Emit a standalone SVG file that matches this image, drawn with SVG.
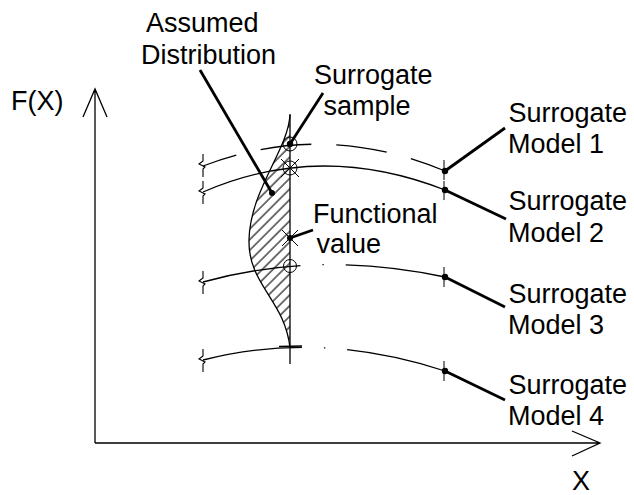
<svg xmlns="http://www.w3.org/2000/svg" width="634" height="495" viewBox="0 0 634 495">
<style>
text{font-family:"Liberation Sans",Arial,sans-serif;font-size:27px;fill:#000}
.ln{fill:none;stroke:#000;stroke-width:1.3}
.ld{fill:none;stroke:#000;stroke-width:2.8}
.th{fill:none;stroke:#000;stroke-width:1}
.zz{fill:none;stroke:#000;stroke-width:1.1}
.dot{fill:#000}
</style>
<defs>
<pattern id="hatch" patternUnits="userSpaceOnUse" width="7.5" height="7.5" patternTransform="rotate(45)">
<line x1="1" y1="0" x2="1" y2="7.5" stroke="#000" stroke-width="1.1"/>
</pattern>
<clipPath id="distclip">
<path d="M290,115 C288,150 250,190 249,240 C248,285 285,300 290,348 Z"/>
</clipPath>
</defs>
<rect width="634" height="495" fill="#fff"/>

<g id="axes">
<path class="ln" d="M95,443 L95,89 M83,117 L95,89 L107,117"/>
<path class="ln" d="M95,443 L600,443 M572,431 L600,443 L572,456"/>
<text x="11" y="110">F(X)</text>
<text x="572" y="490">X</text>
</g>

<g id="distribution">
<rect x="240" y="110" width="55" height="245" fill="url(#hatch)" clip-path="url(#distclip)"/>
<path class="ln" d="M290,115 C288,150 250,190 249,240 C248,285 285,300 290,348"/>
<line class="ln" x1="290" y1="114" x2="290" y2="364"/>
</g>

<g id="model1">
<path class="zz" d="M203,154 L203,161 L199,164 L205,167 L203,169 L203,177"/>
<path class="ln" d="M203,166 Q323,120 445,171" stroke-dasharray="35 25 51 25 51 25 45"/>
<line class="th" x1="444" y1="160" x2="444" y2="180"/>
<circle class="dot" cx="445" cy="171" r="3.2"/>
</g>

<g id="model2">
<path class="zz" d="M203,181 L203,188 L199,191 L205,194 L203,196 L203,204"/>
<path class="ln" d="M203,192 Q320,141 445,190"/>
<line class="th" x1="444" y1="181" x2="444" y2="200"/>
<circle class="dot" cx="445" cy="190" r="3.2"/>
</g>

<g id="model3">
<path class="zz" d="M203,271 L203,278 L199,281 L205,284 L203,286 L203,294"/>
<path class="ln" d="M203,282 Q318,250 445,277" stroke-dasharray="99 22 1.3 22 300"/>
<line class="th" x1="444" y1="267" x2="444" y2="287"/>
<circle class="dot" cx="445" cy="277" r="3.2"/>
</g>

<g id="model4">
<path class="zz" d="M203,349 L203,356 L199,359 L205,362 L203,364 L203,372"/>
<path class="ln" d="M203,360 Q320,330 445,371" stroke-dasharray="100 22 1.3 22 300"/>
<line class="th" x1="444" y1="361" x2="444" y2="381"/>
<circle class="dot" cx="445" cy="371" r="3.2"/>
</g>

<g id="sample-point">
<circle class="th" cx="290" cy="144" r="7"/>
<circle class="dot" cx="290" cy="144" r="3.2"/>
</g>

<g id="true-point">
<circle class="th" cx="290" cy="168" r="7"/>
<path class="th" d="M281,159 L299,177 M299,159 L281,177"/>
</g>

<g id="functional-point">
<path class="th" d="M282,230 L298,246 M298,230 L282,246"/>
<circle class="dot" cx="290" cy="238" r="3"/>
</g>

<g id="model3-point">
<circle class="th" cx="290" cy="266" r="6.5"/>
</g>

<g id="model4-point">
<line class="ln" x1="279" y1="346.5" x2="302" y2="346"/>
</g>

<g id="connectors">
<line class="ld" x1="200" y1="70" x2="272" y2="193"/>
<circle class="dot" cx="272" cy="193" r="3"/>
<line class="ld" x1="290" y1="144" x2="323" y2="93"/>
<line class="ld" x1="290" y1="238" x2="313" y2="230"/>
<line class="ld" x1="445" y1="171" x2="505" y2="128"/>
<line class="ld" x1="445" y1="190" x2="506" y2="219"/>
<line class="ld" x1="445" y1="277" x2="505" y2="307"/>
<line class="ld" x1="445" y1="371" x2="505" y2="400"/>
</g>

<g id="labels">
<text x="146" y="32">Assumed</text>
<text x="141" y="64">Distribution</text>
<text x="314" y="84">Surrogate</text>
<text x="323.5" y="115">sample</text>
<text x="313" y="223">Functional</text>
<text x="316.5" y="253">value</text>
<text x="508.5" y="122">Surrogate</text>
<text x="508" y="153">Model 1</text>
<text x="508.5" y="210">Surrogate</text>
<text x="508" y="242">Model 2</text>
<text x="508.5" y="303">Surrogate</text>
<text x="508" y="334">Model 3</text>
<text x="508.5" y="394">Surrogate</text>
<text x="508" y="425">Model 4</text>
</g>
</svg>
